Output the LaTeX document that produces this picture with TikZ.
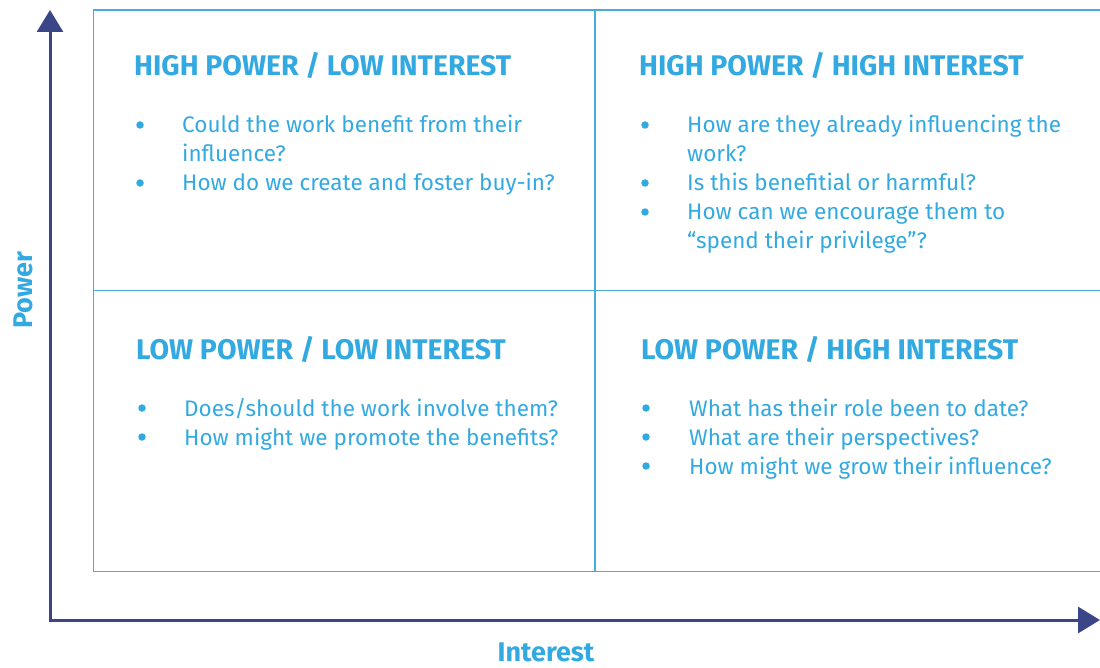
\documentclass[tikz,border=0pt]{standalone}
\usepackage{fontspec}
\setmainfont{Fira Sans}
\usetikzlibrary{arrows.meta}
\definecolor{txt}{HTML}{33A9E1}
\definecolor{grid}{HTML}{45ACDD}
\definecolor{axis}{HTML}{3A4688}
\tikzset{
  head/.style={anchor=base west,inner sep=0pt,text=txt,font=\fontsize{28.4}{28}\selectfont\bfseries},
  item/.style={anchor=base west,inner sep=0pt,text=txt,font=\fontsize{22.5}{29}\selectfont},
  dot/.style={circle,fill=txt,inner sep=0pt,minimum size=7.5pt},
  axlabel/.style={inner sep=0pt,text=txt,font=\fontsize{27}{27}\selectfont\bfseries},
  gridline/.style={draw=grid,line width=1.2pt},
  axisline/.style={draw=axis,line width=3pt,-{Triangle[length=22pt,width=26pt]}}
}
\begin{document}
\begin{tikzpicture}[x=1pt,y=-1pt]
\useasboundingbox (0,0) rectangle (1100,668);
% grid
\coordinate (gTL) at (93.5,10);
\coordinate (gTR) at (1100,10);
\coordinate (gBL) at (93.5,571.5);
\coordinate (gBR) at (1100,571.5);
\coordinate (vT) at (595,10);
\coordinate (vB) at (595,571.5);
\coordinate (hL) at (93.5,290.5);
\coordinate (hR) at (1100,290.5);
\draw[gridline] (gTR) -- (gTL) -- (gBL) -- (gBR);
\draw[gridline] (vT) -- (vB);
\draw[gridline] (hL) -- (hR);
% axes
\coordinate (origin) at (50,620);
\coordinate (yTip) at (50,10);
\coordinate (xTip) at (1100,620);
\draw[axisline] ([yshift=-1.5pt]origin) -- (yTip);
\draw[axisline] ([xshift=-1.5pt]origin) -- (xTip);
\node[axlabel,rotate=90] (power) at (23,290) {Power};
\node[axlabel] (interest) at (546,652.5) {Interest};
% top-left
\node[head] (hTL) at (134,76) {HIGH POWER / LOW INTEREST};
\node[dot] (bTL1) at (140,125) {};
\node[item] (tTL1) at (182,133) {Could the work benefit from their};
\node[item] (tTL1b) at (182,162) {influence?};
\node[dot] (bTL2) at (140,183) {};
\node[item] (tTL2) at (182,191) {How do we create and foster buy-in?};
% top-right
\node[head] (hTR) at (639,76) {HIGH POWER / HIGH INTEREST};
\node[dot] (bTR1) at (645,125) {};
\node[item] (tTR1) at (687,133) {How are they already influencing the};
\node[item] (tTR1b) at (687,162) {work?};
\node[dot] (bTR2) at (645,183) {};
\node[item] (tTR2) at (687,191) {Is this benefitial or harmful?};
\node[dot] (bTR3) at (645,212) {};
\node[item] (tTR3) at (687,220) {How can we encourage them to};
\node[item] (tTR3b) at (687,249) {“spend their privilege”?};
% bottom-left
\node[head] (hBL) at (136,359) {LOW POWER / LOW INTEREST};
\node[dot] (bBL1) at (142,408) {};
\node[item] (tBL1) at (184,416) {Does/should the work involve them?};
\node[dot] (bBL2) at (142,437) {};
\node[item] (tBL2) at (184,445) {How might we promote the benefits?};
% bottom-right
\node[head] (hBR) at (641,359) {LOW POWER / HIGH INTEREST};
\node[dot] (bBR1) at (646,408) {};
\node[item] (tBR1) at (689,416) {What has their role been to date?};
\node[dot] (bBR2) at (646,437) {};
\node[item] (tBR2) at (689,445) {What are their perspectives?};
\node[dot] (bBR3) at (646,466) {};
\node[item] (tBR3) at (689,474) {How might we grow their influence?};
\end{tikzpicture}
\end{document}
